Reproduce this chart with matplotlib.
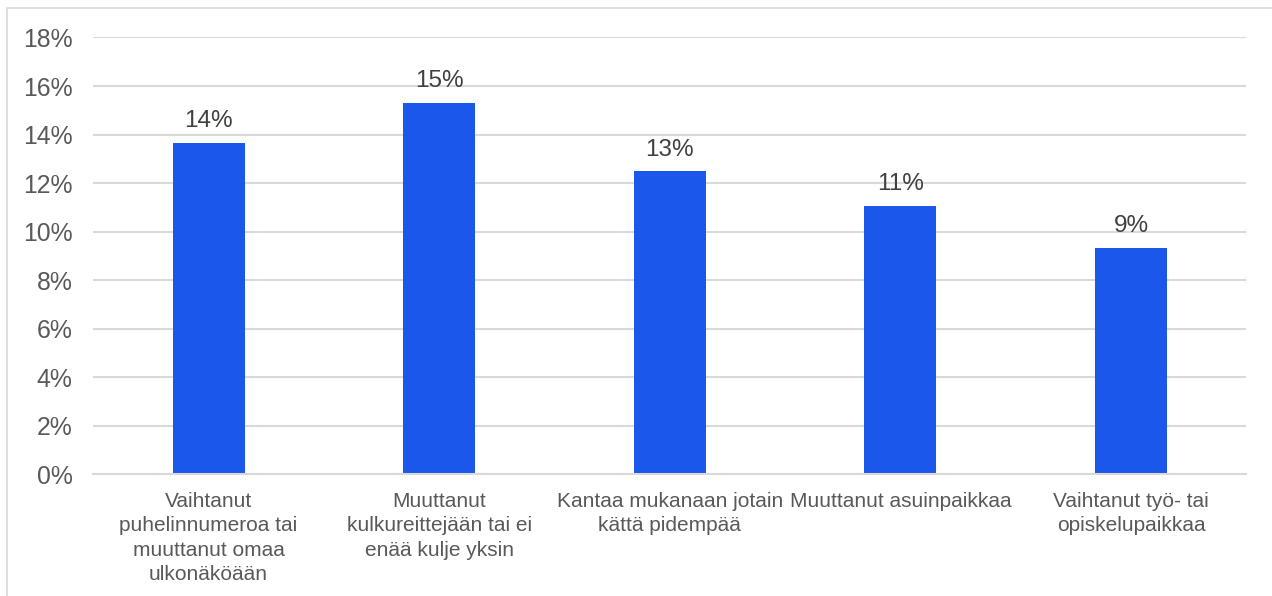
import matplotlib.pyplot as plt
from matplotlib.patches import Rectangle
from matplotlib.ticker import FuncFormatter

plt.rcParams['font.family'] = ['Liberation Sans', 'DejaVu Sans']

categories = [
    "Vaihtanut\npuhelinnumeroa tai\nmuuttanut omaa\nulkonäköään",
    "Muuttanut\nkulkureittejään tai ei\nenää kulje yksin",
    "Kantaa mukanaan jotain\nkättä pidempää",
    "Muuttanut asuinpaikkaa",
    "Vaihtanut työ- tai\nopiskelupaikkaa",
]
values = [13.64, 15.29, 12.48, 11.05, 9.34]
labels = ["14%", "15%", "13%", "11%", "9%"]

text_col = "#595959"
bar_col = "#1b57eb"
grid_col = "#d9d9d9"

fig = plt.figure(figsize=(12.72, 5.96), dpi=100)
ax = fig.add_axes([0.0733, 0.2039, 0.9065, 0.7332])

x = range(len(categories))
bars = ax.bar(x, values, width=0.312, color=bar_col, zorder=2)

for b, lab in zip(bars, labels):
    ax.annotate(lab, (b.get_x() + b.get_width() / 2, b.get_height()),
                xytext=(0, 11.5), textcoords="offset points",
                ha="center", va="baseline", fontsize=17.5, color="#404040")

ax.set_xlim(-0.5, len(categories) - 0.5)
ax.set_ylim(0, 18)
ax.set_yticks(range(0, 19, 2))
ax.yaxis.set_major_formatter(FuncFormatter(lambda v, p: f"{v:.0f}%"))
ax.set_xticks(list(x))
ax.set_xticklabels(categories, fontsize=15, color=text_col, linespacing=1.36)
ax.tick_params(axis="y", labelsize=17.8, labelcolor=text_col, length=0, pad=15)
ax.tick_params(axis="x", length=0, pad=12.5)

ax.grid(axis="y", color=grid_col, linewidth=1.5, zorder=0)
for s in ["top", "right", "left"]:
    ax.spines[s].set_visible(False)
ax.spines["bottom"].set_color(grid_col)
ax.spines["bottom"].set_linewidth(1.5)

# outer frame (top and left edges visible)
fig.patches.append(Rectangle((7 / 1272, -0.1), 1.2, (596 - 8) / 596 + 0.1,
                             transform=fig.transFigure, fill=False,
                             edgecolor="#d9d9d9", linewidth=1.2))

fig.savefig("out.png", dpi=100)
